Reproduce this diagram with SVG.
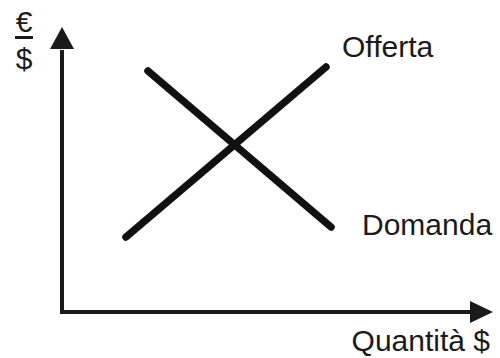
<svg xmlns="http://www.w3.org/2000/svg" width="500" height="358" viewBox="0 0 500 358">
<defs>
<style>
.t{font-family:"Liberation Sans",Arial,sans-serif;font-size:30px;fill:#1a1a1a}
.ax{stroke:#1a1a1a;stroke-width:4;fill:none}
.ln{stroke:#111;stroke-width:7.5;stroke-linecap:round;fill:none}
</style>
</defs>
<rect width="500" height="358" fill="#fff"/>
<g id="axes">
<line class="ax" x1="62" y1="314" x2="62" y2="50"/>
<path d="M50,49 L62,27 L74,49 Z" fill="#1a1a1a"/>
<line class="ax" x1="60" y1="312" x2="472" y2="312"/>
<path d="M470,301 L493,312 L470,323 Z" fill="#1a1a1a"/>
</g>
<g id="connectors">
<line id="domanda-line" class="ln" x1="148" y1="71" x2="331" y2="227"/>
<line id="offerta-line" class="ln" x1="126" y1="237" x2="326" y2="67"/>
</g>
<g id="y-label">
<text class="t" x="24" y="32" text-anchor="middle">€</text>
<rect x="15" y="36" width="18" height="3" fill="#1a1a1a"/>
<text class="t" x="24" y="69" text-anchor="middle">$</text>
</g>
<g id="offerta"><text class="t" x="342" y="57">Offerta</text></g>
<g id="domanda"><text class="t" x="362" y="235">Domanda</text></g>
<g id="x-label"><text class="t" x="490" y="351" text-anchor="end">Quantità $</text></g>
</svg>
